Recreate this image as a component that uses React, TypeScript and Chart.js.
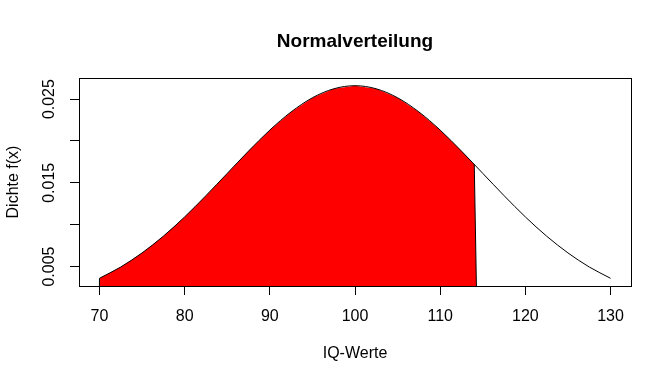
import React, { useEffect, useRef } from "react";
import { Chart, registerables } from "chart.js";

Chart.register(...registerables);

const chartTitle = "Normalverteilung";
const xAxisTitle = "IQ-Werte";
const yAxisTitle = "Dichte f(x)";

// density curve
const curveX = [70, 72.5, 75, 77.5, 80, 82.5, 85, 87.5, 90, 92.5, 95, 97.5, 100, 102.5, 105, 107.5, 110, 112.5, 115, 117.5, 120, 122.5, 125, 127.5, 130];
const curveY = [0.0036, 0.00495, 0.00663, 0.00863, 0.01093, 0.01347, 0.01613, 0.01879, 0.0213, 0.02347, 0.02516, 0.02623, 0.0266, 0.02623, 0.02516, 0.02347, 0.0213, 0.01879, 0.01613, 0.01347, 0.01093, 0.00863, 0.00663, 0.00495, 0.0036];

// shaded (red) polygon from 70 up to about 114
const shadeX = [70, 70, 72.5, 75, 77.5, 80, 82.5, 85, 87.5, 90, 92.5, 95, 97.5, 100, 102.5, 105, 107.5, 110, 112.5, 114, 114.3];
const shadeY = [0, 0.0036, 0.00495, 0.00663, 0.00863, 0.01093, 0.01347, 0.01613, 0.01879, 0.0213, 0.02347, 0.02516, 0.02623, 0.0266, 0.02623, 0.02516, 0.02347, 0.0213, 0.01879, 0.01721, 0];

// outline edges of the shaded polygon
const leftEdgeX = [70, 70];
const leftEdgeY = [0, 0.0036];
const rightEdgeX = [114, 114.3];
const rightEdgeY = [0.01721, 0];

const xTicks = [70, 80, 90, 100, 110, 120, 130];
const yTicks = [0.005, 0.01, 0.015, 0.02, 0.025];
const yTickLabels = ["0.005", "", "0.015", "", "0.025"];

const xMin = 67.6;
const xMax = 132.4;
const yMin = 0.00268;
const yMax = 0.02752;

const FONT = "'Liberation Sans', Arial, sans-serif";

const decorPlugin = {
  id: "decor",
  afterDraw(chart: any) {
    const { ctx, chartArea } = chart;
    const ys = chart.scales.y;
    ctx.save();
    ctx.strokeStyle = "#000";
    ctx.lineWidth = 1;
    ctx.strokeRect(
      Math.round(chartArea.left) + 0.5,
      Math.round(chartArea.top) + 0.5,
      Math.round(chartArea.right - chartArea.left),
      Math.round(chartArea.bottom - chartArea.top)
    );
    ctx.fillStyle = "#000";
    ctx.font = `bold 19px ${FONT}`;
    ctx.textAlign = "center";
    ctx.textBaseline = "middle";
    ctx.fillText(chartTitle, (chartArea.left + chartArea.right) / 2, 42);
    ctx.font = `16px ${FONT}`;
    ctx.fillText(xAxisTitle, (chartArea.left + chartArea.right) / 2, 354);
    ctx.save();
    ctx.translate(14, (chartArea.top + chartArea.bottom) / 2);
    ctx.rotate(-Math.PI / 2);
    ctx.fillText(yAxisTitle, 0, 0);
    ctx.restore();
    yTicks.forEach((v, i) => {
      const lbl = yTickLabels[i];
      if (!lbl) return;
      ctx.save();
      ctx.translate(50, ys.getPixelForValue(v));
      ctx.rotate(-Math.PI / 2);
      ctx.fillText(lbl, 0, 0);
      ctx.restore();
    });
    ctx.restore();
  },
};

export default function App() {
  const ref = useRef<HTMLCanvasElement | null>(null);
  useEffect(() => {
    if (!ref.current) return;
    const edge = (xs: number[], ys: number[]) => ({
      data: xs.map((x, i) => ({ x, y: ys[i] })),
      borderColor: "#000",
      borderWidth: 1,
      pointRadius: 0,
      fill: false,
      tension: 0,
      order: 0,
    });
    const chart = new Chart(ref.current, {
      type: "line",
      data: {
        datasets: [
          {
            data: curveX.map((x, i) => ({ x, y: curveY[i] })),
            borderColor: "#000",
            borderWidth: 1,
            pointRadius: 0,
            fill: false,
            cubicInterpolationMode: "monotone",
            order: 0,
          },
          edge(leftEdgeX, leftEdgeY),
          edge(rightEdgeX, rightEdgeY),
          {
            data: shadeX.map((x, i) => ({ x, y: shadeY[i] })),
            borderColor: "rgba(0,0,0,0)",
            borderWidth: 0,
            backgroundColor: "#ff0000",
            pointRadius: 0,
            fill: "origin",
            tension: 0,
            order: 1,
          },
        ],
      },
      options: {
        responsive: false,
        animation: false,
        layout: { padding: { top: 78, right: 41, left: 0, bottom: 0 } },
        plugins: { legend: { display: false }, tooltip: { enabled: false }, title: { display: false } },
        scales: {
          x: {
            type: "linear",
            min: xMin,
            max: xMax,
            afterBuildTicks: (s: any) => {
              s.ticks = xTicks.map((v) => ({ value: v }));
            },
            afterFit: (s: any) => {
              s.height = 98;
            },
            ticks: {
              color: "#000",
              font: { family: FONT, size: 16 },
              padding: 12,
              maxRotation: 0,
              autoSkip: false,
              callback: (v: any) => String(v),
            },
            grid: { drawOnChartArea: false, drawTicks: true, tickLength: 9, color: "#000" },
            border: { display: true, color: "#000" },
          },
          y: {
            type: "linear",
            min: yMin,
            max: yMax,
            afterBuildTicks: (s: any) => {
              s.ticks = yTicks.map((v) => ({ value: v }));
            },
            afterFit: (s: any) => {
              s.width = 79;
            },
            ticks: { display: false },
            grid: { drawOnChartArea: false, drawTicks: true, tickLength: 9, color: "#000" },
            border: { display: true, color: "#000" },
          },
        },
      },
      plugins: [decorPlugin],
    } as any);
    return () => chart.destroy();
  }, []);
  return (
    <div style={{ position: "fixed", left: 0, top: 0, width: 672, height: 384, background: "#fff" }}>
      <canvas ref={ref} width={672} height={384} style={{ width: 672, height: 384 }} />
    </div>
  );
}
